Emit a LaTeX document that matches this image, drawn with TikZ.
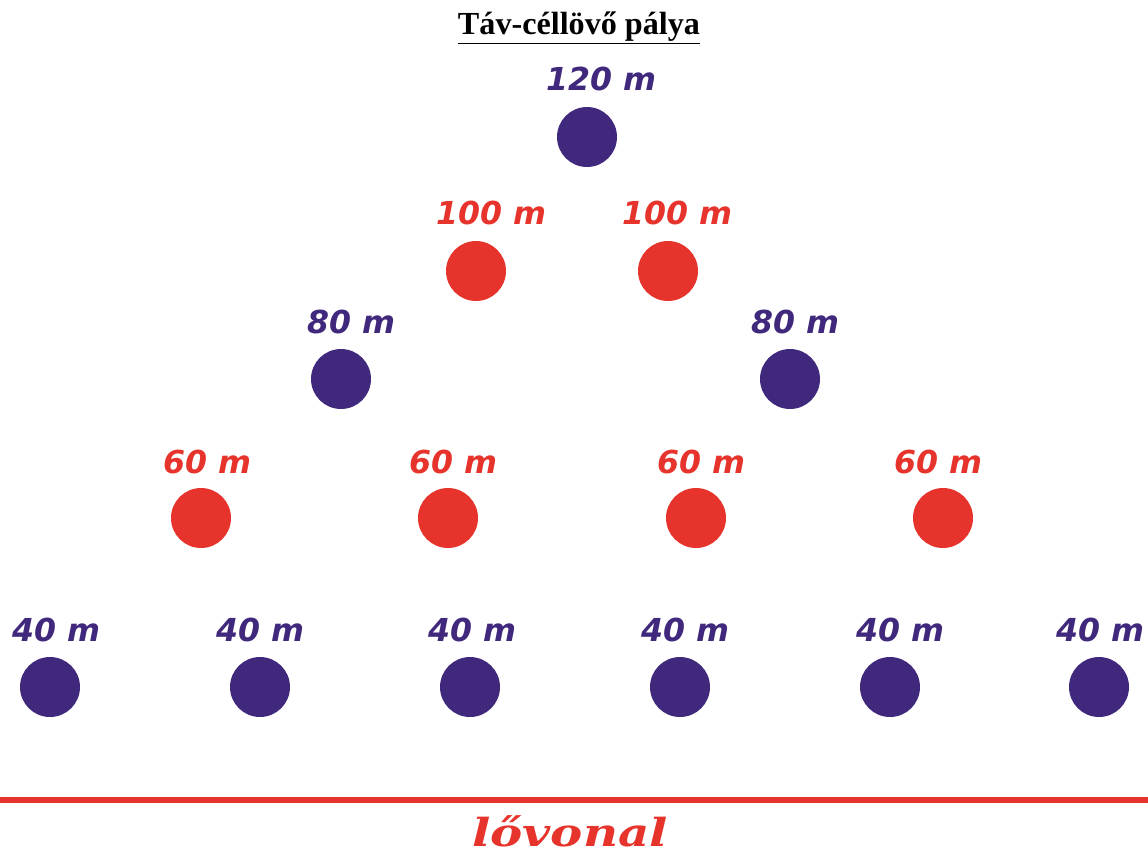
\documentclass[tikz,border=0pt]{standalone}
\usepackage{fontspec}
\setmainfont{Liberation Serif}
\newfontfamily\distfont{DejaVu Sans}
\newfontfamily\shootfont{DejaVu Serif}
\usetikzlibrary{positioning}
\definecolor{targetblue}{RGB}{64,40,124}
\definecolor{targetred}{RGB}{230,52,44}
\tikzset{
  target/.style={circle, minimum size=1.2cm, inner sep=0pt},
  bluetarget/.style={target, fill=targetblue},
  redtarget/.style={target, fill=targetred},
  dist/.style={anchor=base, inner sep=0pt, font=\distfont\bfseries\itshape\fontsize{18}{18}\selectfont},
}

\begin{document}
\begin{tikzpicture}[x=0.02cm, y=-0.02cm]
\useasboundingbox (0,0) rectangle (1148,856);
% title
\node[anchor=base] (title) at (579,34) {\fontsize{18.3}{18}\selectfont\underline{\textbf{Táv-céllövő pálya}}};

% 120 m
\node[bluetarget] (t120) at (587,137) {};
\node[dist, text=targetblue] (l120) at (601,90) {120 m};

% 100 m
\node[redtarget] (t100a) at (476,271) {};
\node[redtarget] (t100b) at (668,271) {};
\node[dist, text=targetred] (l100a) at (491,224) {100 m};
\node[dist, text=targetred] (l100b) at (677,224) {100 m};

% 80 m
\node[bluetarget] (t80a) at (341,379) {};
\node[bluetarget] (t80b) at (790,379) {};
\node[dist, text=targetblue] (l80a) at (351,333) {80 m};
\node[dist, text=targetblue] (l80b) at (795,333) {80 m};

% 60 m
\foreach \i/\x/\lx in {1/201/207, 2/448/453, 3/696/701, 4/943/938}{
  \node[redtarget] (t60\i) at (\x,518) {};
  \node[dist, text=targetred] (l60\i) at (\lx,473) {60 m};
}

% 40 m
\foreach \i/\x/\lx in {1/50/56, 2/260/260, 3/470/472, 4/680/685, 5/890/900, 6/1099/1100}{
  \node[bluetarget] (t40\i) at (\x,687) {};
  \node[dist, text=targetblue] (l40\i) at (\lx,641) {40 m};
}

% firing line
\coordinate (lineW) at (0,800);
\coordinate (lineE) at (1148,800);
\draw[targetred, line width=3.4pt] (lineW) -- (lineE);
\node[anchor=base, xscale=1.25, text=targetred, font=\shootfont\bfseries\itshape\fontsize{22}{22}\selectfont] (shoot) at (570,846) {lővonal};
\end{tikzpicture}
\end{document}
